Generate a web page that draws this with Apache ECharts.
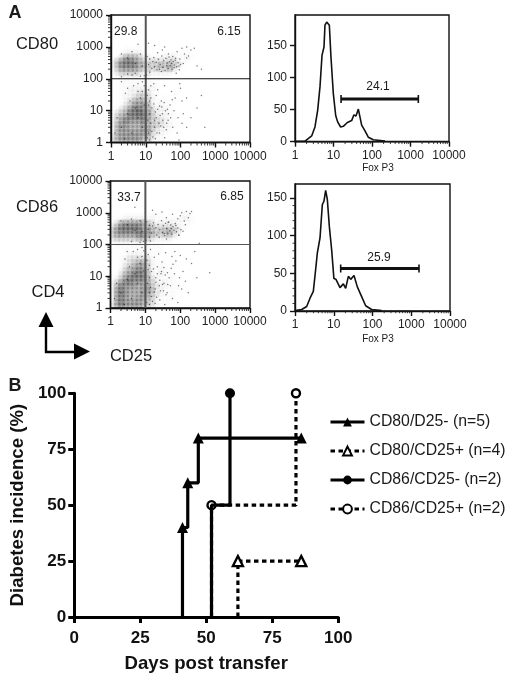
<!DOCTYPE html>
<html><head><meta charset="utf-8">
<style>html,body{margin:0;padding:0;background:#fff}#c{width:513px;height:677px}</style>
<script src="https://cdn.jsdelivr.net/npm/echarts@6/dist/echarts.min.js"></script>
</head><body><div id="c"></div>
<script>
// ---- values ----
const logTicks = [1,10,100,1000,10000];
const logMinor = [2,3,4,5,6,7,8,9,20,30,40,50,60,70,80,90,200,300,400,500,600,700,800,900,2000,3000,4000,5000,6000,7000,8000,9000];
const histTicks = [0,50,100,150];
const hist2Minor = [10,20,30,40,60,70,80,90,110,120,130,140];
// density rows, top to bottom, one digit per 1/8 decade of CD25 (from 1), rows 1/8 decade of CD4
const cd80Density = [
"00000000000000000000","00000000000000000000","00011110100000000100","00122221100010111100",
"01355542211122211210","24677654333333321100","25777755444545431000","24666654434445310000",
"13444432322222100000","01222221211110000000","00111111110000000000","00111111111000000000",
"00112222221000000000","00112233311000100000","00122344321010000000","00123555421110100000",
"00134666521211000000","01346776532211000000","13457787642221100000","24567777643221100000",
"24676667543321100000","25665556544322110000","25665556643221100000","25666666632211000000",
"35666665532110000000","35666664421110000000"];
const cd86Density = [
"00000000000000000000","00000000000000000000","00011111111100001110","00122222121111112210",
"13566666431222221110","35777775543333321100","46777776654455431000","46666677654445310000",
"34444455432222110000","12222222211111000000","01111111111100000000","00011111110100000000",
"00012222211000100000","00123333310010000000","00123455421100100000","00134566421110100000",
"00245676421211000000","01356777521211100000","12467777532111100000","24677666542221110000",
"25766656643221110000","26765556652211110000","26765556543211100000","26765566542111100000",
"26766665432111000000","36766665432110000000"];
const cd80Dots = [[22,650],[30,800],[45,600],[60,500],[80,700],[110,900],[150,1000],[200,800],[250,900],[130,600],[170,520],[95,420],[70,380],[55,300],[40,260],[120,300],[90,250],[300,250],[400,200],[35,1000],[18,1100],[12,1300],[6,1200],[150,450],[65,220],[48,340],[75,150],[28,170],[18,240],[14,60],[20,30],[25,14],[30,8],[18,5],[40,4],[60,3],[80,2],[50,15],[70,25],[100,50],[110,20],[120,8],[150,3],[200,6],[300,12],[400,30],[500,3],[12,2],[16,1.5],[25,2],[35,1.4],[90,1.2],[45,8],[28,20],[22,45],[35,60],[65,10],[85,6],[55,40],[95,70],[150,25],[110,4],[15,12],[19,9],[24,4],[33,3],[42,11],[52,6],[58,22],[14,25],[17,70],[2,3],[3,8],[4,2],[5,12],[6,6],[7,25],[8,3],[1.5,6],[1.3,2],[9,15],[2.5,1.3],[3,450],[5,300],[2,600],[8,250],[12,280],[16,350],[25,200],[4,700],[7,600],[3.5,20],[6,40],[4.5,60],[8,80],[2.6,35],
[11,500],[13,420],[15,210],[17,460],[20,330],[21,190],[23,410],[26,280],[29,520],[31,230],[33,370],[36,180],[38,440],[41,310],[44,210],[47,480],[50,260],[53,390],[57,200],[62,350],[66,270],[72,440],[78,240],[85,320],[92,190],[100,280],[13,160],[10.5,130],[12,15],[13,8],[14,4],[15,2.2],[11,30],[12,45],[11.5,5],[13,20],[17,16],[18,3],[20,6],[22,11],[21,2],[26,7],[27,3.3],[29,13],[31,5],[34,18],[37,10],[39,2.5],[44,5],[11,1.4],[13,1.2],[19,1.3],[7,120],[4,130],[3,140],[2,115],[5,150],[9,125],[6,70],[3,50],[2,80],[8,40],[9,60]];
const cd86Dots = [[20,900],[30,1050],[40,700],[60,900],[85,650],[110,1000],[150,1100],[190,950],[170,700],[130,550],[100,800],[75,400],[55,320],[35,220],[90,200],[140,420],[210,1100],[16,1200],[10,1400],[5,1500],[45,500],[120,260],[25,170],[14,130],[40,150],[70,60],[14,70],[18,40],[22,20],[28,12],[34,6],[19,4],[42,3],[60,2],[85,1.5],[55,18],[75,30],[100,45],[120,14],[140,7],[170,3],[210,25],[260,60],[350,110],[700,13],[300,9],[13,3],[16,1.6],[26,1.8],[36,1.3],[95,9],[48,9],[30,28],[24,50],[38,55],[68,12],[90,5],[58,42],[150,35],[110,4],[15,14],[20,9],[25,5],[33,3.5],[43,13],[52,5],[62,24],[2,3],[3,8],[4,2],[5,12],[6,6],[7,25],[8,3],[1.5,6],[1.3,2],[9,15],[2.5,1.3],[3,420],[5,280],[2,550],[8,260],[12,300],[16,380],[4,640],[7,560],[3.5,20],[6,40],[4.5,60],[8,80],[2.6,35],
[11,520],[13,400],[15,230],[17,480],[20,340],[21,200],[23,430],[26,290],[29,560],[31,240],[33,390],[36,190],[38,470],[41,320],[44,220],[47,510],[50,270],[53,410],[57,210],[62,360],[66,280],[72,460],[78,250],[85,330],[92,195],[105,290],[13,170],[10.5,135],[12,16],[13,9],[14,4.5],[15,2.3],[11,32],[12,48],[11.5,6],[13,22],[17,17],[18,3.2],[20,6.5],[22,12],[21,2.2],[26,7.5],[27,3.5],[29,14],[31,5.5],[34,19],[37,11],[39,2.6],[44,5.5],[11,1.5],[13,1.3],[19,1.4],[7,115],[4,125],[3,60],[9,125],[6,70],[8,42],[9,64]];
const hist1X = [1,1.82,2.71,3.3,3.88,4.46,5.03,5.67,6,6.65,7.8,8.6,9.9,11.4,12.8,15.3,18,22.9,29.6,34,38.4,44.2,48.8,53.9,65.8,80,108,218];
const hist1Y = [0.5,1,9,23,49,86,135,148,182,187,182,132,75,41,31,23,24,30,33,42,40,51,50,26,17,7,3,1];
const hist2X = [1,1.49,2,2.44,2.97,3.41,3.77,4.42,5.07,5.6,6.18,6.83,7.7,8.84,10.1,11.4,14.5,17.7,20.3,23.8,27.4,33.3,40.6,52.5,66.6,95,172];
const hist2Y = [0.5,2,6,17,26,55,77,97,141,146,160,148,112,81,43,42,31,36,30,46,42,47,32,19,7,2,0.5];
const hist1GateX = [15.7,1597], hist1GateY = 66.7;
const hist2GateX = [15.1,1585], hist2GateY = 56.4;
const cd80NegName = 'CD80/D25- (n=5)';
const cd80NegDays = [41,41,43,43,47,47,86];
const cd80NegPct  = [0,40,40,60,60,80,80];
const cd80NegMark = [0,1,0,1,0,1,1];
const cd80PosName = 'CD80/CD25+ (n=4)';
const cd80PosDays = [62,62,86];
const cd80PosPct  = [0,25,25];
const cd80PosMark = [0,1,1];
const cd86NegName = 'CD86/CD25- (n=2)';
const cd86NegDays = [52,52,59,59];
const cd86NegPct  = [0,50,50,100];
const cd86NegMark = [0,0,0,1];
const cd86PosName = 'CD86/CD25+ (n=2)';
const cd86PosDays = [52,52,84,84];
const cd86PosPct  = [0,50,50,100];
const cd86PosMark = [0,1,0,1];
const survTicks = [0,25,50,75,100];

// ---- build ----
const FONT = '"Liberation Sans", Arial, sans-serif';
const chart = echarts.init(document.getElementById('c'), null, {renderer:'canvas'});
const grids = [
 {left:111,top:15,width:139,height:127.5},
 {left:295,top:15,width:154,height:126.7},
 {left:110.5,top:181,width:139.5,height:127},
 {left:295,top:184,width:155,height:127},
 {left:71.7,top:393.3,width:266.5,height:223.7}
].map(g=>Object.assign({show:false,containLabel:false},g));
grids.slice(0,4).forEach(g=>{g.show=true;g.borderColor='#111';g.borderWidth=1.4;g.backgroundColor='transparent';});

const logAxis = (i,pos)=>({type:'log',logBase:10,min:1,max:10000,gridIndex:i,position:pos,
  splitLine:{show:false},minorTick:{show:false},
  axisLine:{show:true,onZero:false,lineStyle:{color:'#111',width:1.4}},
  axisTick:{show:true,length:5,lineStyle:{color:'#111',width:1.4}},
  axisLabel:{fontFamily:FONT,fontSize:12,color:'#222',margin:8,hideOverlap:false,
    showMinLabel:true,showMaxLabel:true,formatter:v=>String(Math.round(v))}});
const histY = (i,max)=>({type:'value',min:0,max:max,gridIndex:i,
  splitLine:{show:false},
  axisLine:{show:true,lineStyle:{color:'#111',width:1.4}},
  axisTick:{show:true,length:5,customValues:histTicks,lineStyle:{color:'#111',width:1.4}},
  axisLabel:{fontFamily:FONT,fontSize:12,color:'#222',margin:8,customValues:histTicks}});

const minorTicks = (idx,vals,isX,linear)=>({type:'custom',coordinateSystem:'cartesian2d',xAxisIndex:idx,yAxisIndex:idx,silent:true,z:5,clip:false,
  data:vals.map(v=>isX?[v,1]:[1,v]),
  renderItem:(p,api)=>{const c=api.coord([api.value(0),api.value(1)]);
    return {type:'line',shape:isX?{x1:c[0],y1:c[1],x2:c[0],y2:c[1]+3}:{x1:c[0],y1:c[1],x2:c[0]-(linear?2.5:3),y2:c[1]},style:{stroke:'#222',lineWidth:0.9}};}});

const densitySeries = (idx,rows)=>{const data=[];const n=rows.length;
  rows.forEach((r,ri)=>{for(let c=0;c<r.length;c++){const d=+r[c];if(d>0)data.push([Math.pow(10,(c+.5)/8),Math.pow(10,(n-1-ri+.5)/8),d]);}});
  return {type:'scatter',xAxisIndex:idx,yAxisIndex:idx,symbol:'circle',symbolSize:7,silent:true,z:2,clip:true,
    data:data,itemStyle:{shadowBlur:4,shadowColor:'rgba(25,25,25,.35)',color:p=>'rgba(25,25,25,'+(0.3*Math.pow(p.value[2]/7,1.8)).toFixed(3)+')'}};};
const dotSeries = (idx,pts)=>({type:'scatter',xAxisIndex:idx,yAxisIndex:idx,symbol:'circle',symbolSize:1.5,silent:true,z:3,data:pts,itemStyle:{color:'rgba(0,0,0,.65)'}});
const gate = (idx,col1,w1,col2,w2)=>[
  {type:'line',xAxisIndex:idx,yAxisIndex:idx,symbol:'none',silent:true,z:4,data:[[10,1],[10,10000]],lineStyle:{color:col1,width:w1}},
  {type:'line',xAxisIndex:idx,yAxisIndex:idx,symbol:'none',silent:true,z:4,data:[[1,100],[10000,100]],lineStyle:{color:col2,width:w2}}];
const histLine = (idx,xs,ys)=>({type:'line',xAxisIndex:idx,yAxisIndex:idx,symbol:'none',silent:true,z:3,
  data:xs.map((x,i)=>[x,ys[i]]),lineStyle:{color:'#111',width:1.6}});
const histGate = (idx,xs,y)=>({type:'line',xAxisIndex:idx,yAxisIndex:idx,silent:true,z:3,symbol:'rect',symbolSize:[1.6,8],
  data:xs.map(x=>[x,y]),itemStyle:{color:'#111'},lineStyle:{color:'#111',width:2.8}});

const survival = (name,xs,ys,marks,sym,filled,dashed,z)=>({type:'line',name,xAxisIndex:4,yAxisIndex:4,clip:false,z,
  symbol:sym,symbolSize:sym==='triangle'?(filled?11:10):(filled?10:8),showAllSymbol:true,silent:true,
  data:xs.map((x,i)=>marks[i]?{value:[x,ys[i]]}:{value:[x,ys[i]],symbol:'none'}),
  itemStyle:{color:filled?'#000':'#fff',borderColor:'#000',borderWidth:filled?0:2.4},
  lineStyle:{color:'#000',width:3.2,type:dashed?[4.5,3.5]:'solid'}});

const text=(t,x,y,size,weight,rot)=>({type:'text',x,y,rotation:rot||0,silent:true,z:20,
  style:{text:t,x:0,y:0,fill:'#1a1a1a',font:(weight||'normal')+' '+size+'px '+FONT,textAlign:'center',textVerticalAlign:'middle'}});

const option = {
 animation:false,backgroundColor:'#fff',
 grid:grids,
 xAxis:[logAxis(0,'bottom'),logAxis(1,'bottom'),logAxis(2,'bottom'),logAxis(3,'bottom'),
  {type:'value',min:0,max:100,interval:25,gridIndex:4,splitLine:{show:false},
   axisLine:{lineStyle:{color:'#000',width:3}},axisTick:{length:6,lineStyle:{color:'#000',width:3}},
   axisLabel:{fontFamily:FONT,fontSize:17,fontWeight:'bold',color:'#111',margin:13},
   name:'Days post transfer',nameLocation:'middle',nameGap:37,
   nameTextStyle:{fontFamily:FONT,fontSize:18.6,fontWeight:'bold',color:'#111'}}],
 yAxis:[logAxis(0,'left'),histY(1,198),logAxis(2,'left'),histY(3,168.6),
  {type:'value',min:0,max:100,interval:25,gridIndex:4,splitLine:{show:false},
   axisLine:{lineStyle:{color:'#000',width:3}},axisTick:{length:6,lineStyle:{color:'#000',width:3}},
   axisLabel:{fontFamily:FONT,fontSize:17,fontWeight:'bold',color:'#111',margin:8},
   name:'Diabetes incidence (%)',nameLocation:'middle',nameGap:46,
   nameTextStyle:{fontFamily:FONT,fontSize:18.6,fontWeight:'bold',color:'#111'}}],
 legend:{show:true,orient:'vertical',left:329,top:414,itemWidth:34,itemHeight:11,itemGap:13,padding:0,
  selectedMode:false,lineStyle:{width:3},
  textStyle:{fontFamily:FONT,fontSize:15.8,color:'#1a1a1a'},
  data:[cd80NegName,cd80PosName,cd86NegName,cd86PosName]},
 series:[
  densitySeries(0,cd80Density),dotSeries(0,cd80Dots),...gate(0,'#555',2,'#111',1),
  minorTicks(0,logMinor,true),minorTicks(0,logMinor,false),
  histLine(1,hist1X,hist1Y),histGate(1,hist1GateX,hist1GateY),minorTicks(1,logMinor,true),
  densitySeries(2,cd86Density),dotSeries(2,cd86Dots),...gate(2,'#555',2,'#555',1.2),
  minorTicks(2,logMinor,true),minorTicks(2,logMinor,false),
  histLine(3,hist2X,hist2Y),histGate(3,hist2GateX,hist2GateY),minorTicks(3,logMinor,true),minorTicks(3,hist2Minor,false,true),
  survival(cd80PosName,cd80PosDays,cd80PosPct,cd80PosMark,'triangle',false,true,6),
  survival(cd86PosName,cd86PosDays,cd86PosPct,cd86PosMark,'circle',false,true,6),
  survival(cd80NegName,cd80NegDays,cd80NegPct,cd80NegMark,'triangle',true,false,7),
  survival(cd86NegName,cd86NegDays,cd86NegPct,cd86NegMark,'circle',true,false,7)
 ],
 graphic:{elements:[
  text('A',15,13,18,'bold'),text('B',15,386,18,'bold'),
  text('CD80',37,44,16.5),text('CD86',37,207,16.5),text('CD4',48,292,16.5),text('CD25',131,356,16.5),
  text('29.8',125.7,32,12),text('6.15',229,32,12),text('33.7',129,198,12),text('6.85',232,197,12),
  text('24.1',378,87,12),text('25.9',379,258,12),
  text('Fox P3',378,168,10),text('Fox P3',378,339,10),
  {type:'polyline',silent:true,shape:{points:[[46,325],[46,352],[76,352]]},style:{stroke:'#000',lineWidth:2.4,fill:null}},
  {type:'polygon',silent:true,shape:{points:[[46,312],[38.5,327],[53.5,327]]},style:{fill:'#000'}},
  {type:'polygon',silent:true,shape:{points:[[90,351.5],[74,343.5],[74,359.5]]},style:{fill:'#000'}}
 ]}
};
chart.setOption(option);
</script></body></html>
